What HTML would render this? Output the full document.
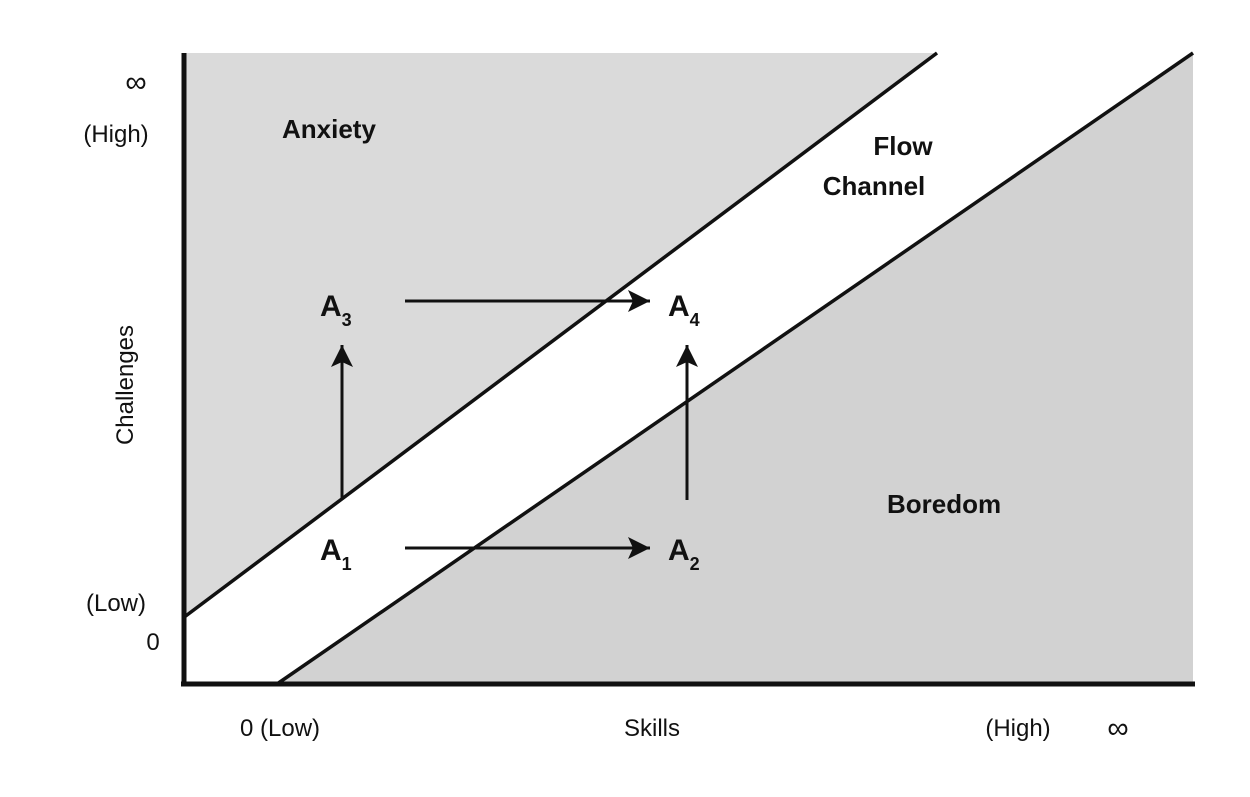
<!DOCTYPE html>
<html><head><style>
body{margin:0;background:#fff;}
svg text{font-family:"Liberation Sans",Arial,sans-serif;fill:#111;}
</style></head><body>
<svg width="1250" height="792" viewBox="0 0 1250 792" xmlns="http://www.w3.org/2000/svg">
<defs>
<marker id="ah" markerWidth="24" markerHeight="22" refX="22" refY="11" orient="auto" markerUnits="userSpaceOnUse">
<path d="M0,0 L22,11 L0,22 L5,11 Z" fill="#111"/>
</marker>
</defs>
<polygon points="183,53 937,53 183,618" fill="#dadada"/>
<polygon points="277,684 1193,53 1193,684" fill="#d2d2d2"/>
<line x1="183" y1="618" x2="937" y2="53" stroke="#111" stroke-width="3.5"/>
<line x1="277" y1="684" x2="1193" y2="53" stroke="#111" stroke-width="3.5"/>
<line x1="184" y1="53" x2="184" y2="686" stroke="#111" stroke-width="5"/>
<line x1="181" y1="684" x2="1195" y2="684" stroke="#111" stroke-width="5"/>
<line x1="342" y1="498" x2="342" y2="345" stroke="#111" stroke-width="3" marker-end="url(#ah)"/>
<line x1="687" y1="500" x2="687" y2="345" stroke="#111" stroke-width="3" marker-end="url(#ah)"/>
<line x1="405" y1="301" x2="650" y2="301" stroke="#111" stroke-width="3" marker-end="url(#ah)"/>
<line x1="405" y1="548" x2="650" y2="548" stroke="#111" stroke-width="3" marker-end="url(#ah)"/>
<text x="320" y="316" font-size="30" font-weight="bold">A<tspan font-size="18" dy="10">3</tspan></text>
<text x="668" y="316" font-size="30" font-weight="bold">A<tspan font-size="18" dy="10">4</tspan></text>
<text x="320" y="560" font-size="30" font-weight="bold">A<tspan font-size="18" dy="10">1</tspan></text>
<text x="668" y="560" font-size="30" font-weight="bold">A<tspan font-size="18" dy="10">2</tspan></text>
<text x="282" y="138" font-size="26" font-weight="bold">Anxiety</text>
<text x="903" y="155" font-size="26" font-weight="bold" text-anchor="middle">Flow</text>
<text x="874" y="195" font-size="26" font-weight="bold" text-anchor="middle">Channel</text>
<text x="887" y="513" font-size="26" font-weight="bold">Boredom</text>
<text x="136" y="92" font-size="30" text-anchor="middle">∞</text>
<text x="116" y="142" font-size="24" text-anchor="middle">(High)</text>
<text x="116" y="611" font-size="24" text-anchor="middle">(Low)</text>
<text x="153" y="650" font-size="24" text-anchor="middle">0</text>
<text transform="translate(133,385) rotate(-90)" font-size="24" text-anchor="middle">Challenges</text>
<text x="280" y="736" font-size="24" text-anchor="middle">0 (Low)</text>
<text x="652" y="736" font-size="24" text-anchor="middle">Skills</text>
<text x="1018" y="736" font-size="24" text-anchor="middle">(High)</text>
<text x="1118" y="738" font-size="30" text-anchor="middle">∞</text>
</svg>
</body></html>
